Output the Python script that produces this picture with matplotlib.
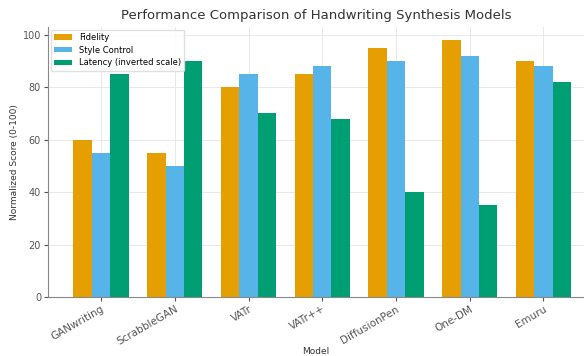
import numpy as np
import matplotlib.pyplot as plt

# Scores per model (0-100, latency shown on inverted scale)
models = ["GANwriting", "ScrabbleGAN", "VATr", "VATr++", "DiffusionPen", "One-DM", "Emuru"]
fidelity = [60, 55, 80, 85, 95, 98, 90]
style_control = [55, 50, 85, 88, 90, 92, 88]
latency_inv = [85, 90, 70, 68, 40, 35, 82]

x = np.arange(len(models))
width = 0.25

fig = plt.figure(figsize=(5.84, 3.56), dpi=100)
ax = fig.add_axes([48 / 584, 59 / 356, 536 / 584, 270 / 356])

ax.bar(x - width, fidelity, width, color="#E69F00", label="Fidelity")
ax.bar(x, style_control, width, color="#56B4E9", label="Style Control")
ax.bar(x + width, latency_inv, width, color="#009E73", label="Latency (inverted scale)")

ax.set_xlim(-0.72, 6.55)
ax.set_ylim(0, 98 * 1.05)
ax.set_yticks([0, 20, 40, 60, 80, 100])
ax.set_xticks(x)
ax.set_xticklabels(models, rotation=30, ha="right", rotation_mode="anchor")
ax.tick_params(axis="x", labelsize=7.5, colors="#555555", length=3, pad=2)
ax.tick_params(axis="y", labelsize=7, colors="#555555", length=3, pad=2)

ax.grid(True, color="#e8e8e8", linewidth=0.7)
ax.set_axisbelow(True)
for side in ["top", "right"]:
    ax.spines[side].set_visible(False)
for side in ["left", "bottom"]:
    ax.spines[side].set_color("#888888")

ax.set_title("Performance Comparison of Handwriting Synthesis Models", fontsize=9.5, color="#333333", pad=6)
ax.set_xlabel("Model", fontsize=6.5, color="#333333", labelpad=0)
ax.set_ylabel("Normalized Score (0-100)", fontsize=6.5, color="#333333", labelpad=3)

ax.legend(loc="upper left", fontsize=6, frameon=True, framealpha=0.9, edgecolor="#dddddd",
          handlelength=2.2, handleheight=0.6, borderaxespad=0.3, labelspacing=0.45)

fig.savefig("out.png", dpi=100)
